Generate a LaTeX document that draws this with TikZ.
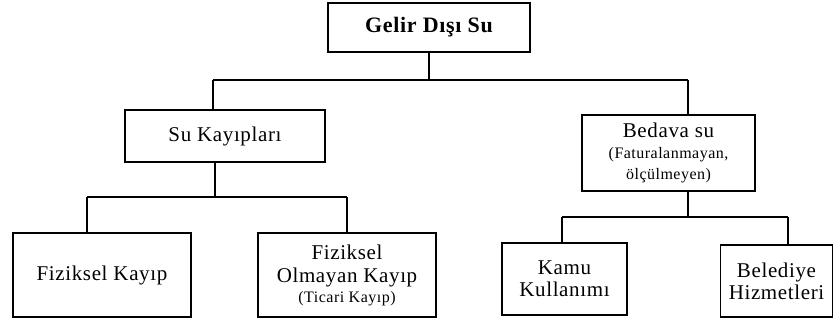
\documentclass[tikz,border=0pt]{standalone}
\usepackage{fontspec}
\setmainfont{Liberation Serif}[LetterSpace=3]
\begin{document}
\begin{tikzpicture}[x=1pt,y=-1pt,
  box/.style={draw=black,line width=1.5pt,align=center,inner sep=0pt,
    font=\fontsize{21}{24}\selectfont},
  conn/.style={draw=black,line width=1.6pt}]
\useasboundingbox (0,0) rectangle (834,322);
\node[box,minimum width=202pt,minimum height=49pt,font=\fontsize{22}{24}\selectfont\bfseries] (top) at (429,27.5) {Gelir Dışı Su};
\node[box,minimum width=200pt,minimum height=52pt] (su) at (225,136) {Su Kayıpları};
\node[box,minimum width=173pt,minimum height=76pt] (bed) at (668.5,153)
  {Bedava su\\[-3pt]{\fontsize{16}{19}\selectfont (Faturalanmayan,}\\[-3pt]{\fontsize{16}{19}\selectfont ölçülmeyen)}};
\node[box,minimum width=178pt,minimum height=84pt] (fk) at (102,275) {Fiziksel Kayıp};
\node[box,minimum width=178pt,minimum height=84pt] (fok) at (347,275)
  {Fiziksel\\[-1pt]Olmayan Kayıp\\[-4pt]{\fontsize{16}{18}\selectfont (Ticari Kayıp)}};
\node[box,minimum width=125pt,minimum height=72pt] (kamu) at (564.5,279) {Kamu\\[-2pt]Kullanımı};
\node[box,minimum width=112pt,minimum height=72pt] (bel) at (776.5,281) {Belediye\\[-2pt]Hizmetleri};
\coordinate (h1l) at (213,80);
\coordinate (h1r) at (688,80);
\coordinate (s2) at (215,197);
\coordinate (h2l) at (87,197);
\coordinate (h2r) at (347,197);
\coordinate (s3) at (688,217);
\coordinate (h3l) at (562,217);
\coordinate (h3r) at (788,217);
\draw[conn] (top.south) -- (top.south |- h1l);
\draw[conn] (h1l) -- (h1r);
\draw[conn] (h1l) -- (su.north -| h1l);
\draw[conn] (h1r) -- (bed.north -| h1r);
\draw[conn] (su.south -| s2) -- (s2);
\draw[conn] (h2l) -- (h2r);
\draw[conn] (h2l) -- (fk.north -| h2l);
\draw[conn] (h2r) -- (fok.north -| h2r);
\draw[conn] (bed.south -| s3) -- (s3);
\draw[conn] (h3l) -- (h3r);
\draw[conn] (h3l) -- (kamu.north -| h3l);
\draw[conn] (h3r) -- (bel.north -| h3r);
\end{tikzpicture}
\end{document}
